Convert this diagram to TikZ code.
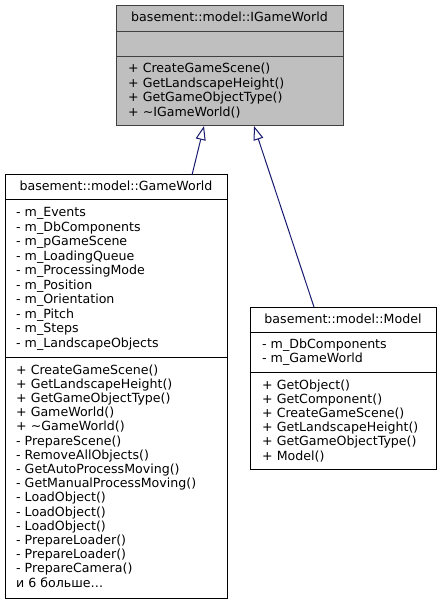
\documentclass[tikz,border=0pt]{standalone}
\usepackage{fontspec}
\setmainfont{DejaVu Sans}
\usetikzlibrary{arrows.meta}
\definecolor{edgeblue}{HTML}{191970}
\definecolor{boxgray}{HTML}{BFBFBF}
\definecolor{bordergray}{HTML}{404040}
\tikzset{
  cls/.style={draw=black, line width=1pt, rectangle, inner sep=0pt, outer sep=0pt, anchor=north west},
  sep/.style={line width=1pt},
  mem/.style={anchor=base west, inner sep=0pt, font=\fontsize{12.6}{14}\selectfont},
  ttl/.style={anchor=base, inner sep=0pt, font=\fontsize{12.6}{14}\selectfont},
  inh/.style={draw=edgeblue, line width=1pt, -{Triangle[open, length=14pt, width=10pt, fill=white]}}
}
\begin{document}
\begin{tikzpicture}[x=1pt,y=-1pt]
\useasboundingbox (0,0) rectangle (443,609);
% IGameWorld
\node[cls, draw=bordergray, fill=boxgray, minimum width=227pt, minimum height=120pt] (igw) at (116,6) {};
\draw[sep, bordergray] (116,31.7) -- (343,31.7);
\draw[sep, bordergray] (116,56.7) -- (343,56.7);
\node[ttl] (igwt) at (229.5,21.3) {basement::model::IGameWorld};
\foreach \t [count=\i from 0] in {+ CreateGameScene(), + GetLandscapeHeight(), + GetGameObjectType(), + \textasciitilde IGameWorld()}
  \node[mem] (igwm\i) at (128,72.8+14.5*\i) {\t};
% GameWorld
\node[cls, minimum width=222pt, minimum height=423pt] (gw) at (5,175) {};
\draw[sep] (5,200) -- (227,200);
\draw[sep] (5,357) -- (227,357);
\node[ttl] (gwt) at (116,190.7) {basement::model::GameWorld};
\foreach \t [count=\i from 0] in {- m\_Events, - m\_DbComponents, - m\_pGameScene, - m\_LoadingQueue, - m\_ProcessingMode, - m\_Position, - m\_Orientation, - m\_Pitch, - m\_Steps, - m\_LandscapeObjects}
  \node[mem] (gwa\i) at (16,216.7+14.5*\i) {\t};
\foreach \t [count=\i from 0] in {+ CreateGameScene(), + GetLandscapeHeight(), + GetGameObjectType(), + GameWorld(), + \textasciitilde GameWorld(), - PrepareScene(), - RemoveAllObjects(), - GetAutoProcessMoving(), - GetManualProcessMoving(), - LoadObject(), - LoadObject(), - LoadObject(), - PrepareLoader(), - PrepareLoader(), - PrepareCamera(), {и 6 больше\dots}}
  \node[mem] (gwm\i) at (16,374+14.2*\i) {\t};
% Model
\node[cls, minimum width=186pt, minimum height=162pt] (md) at (250,307) {};
\draw[sep] (250,332) -- (436,332);
\draw[sep] (250,372) -- (436,372);
\node[ttl] (mdt) at (343,323.3) {basement::model::Model};
\foreach \t [count=\i from 0] in {- m\_DbComponents, - m\_GameWorld}
  \node[mem] (mda\i) at (262,348.3+14.4*\i) {\t};
\foreach \t [count=\i from 0] in {+ GetObject(), + GetComponent(), + CreateGameScene(), + GetLandscapeHeight(), + GetGameObjectType(), + Model()}
  \node[mem] (mdm\i) at (262,389+14.2*\i) {\t};
% inheritance
\draw[inh] ([xshift=76pt]gw.north) -- ([xshift=-25.5pt]igw.south);
\draw[inh] ([xshift=-29pt]md.north) -- ([xshift=24.5pt]igw.south);
\end{tikzpicture}
\end{document}
